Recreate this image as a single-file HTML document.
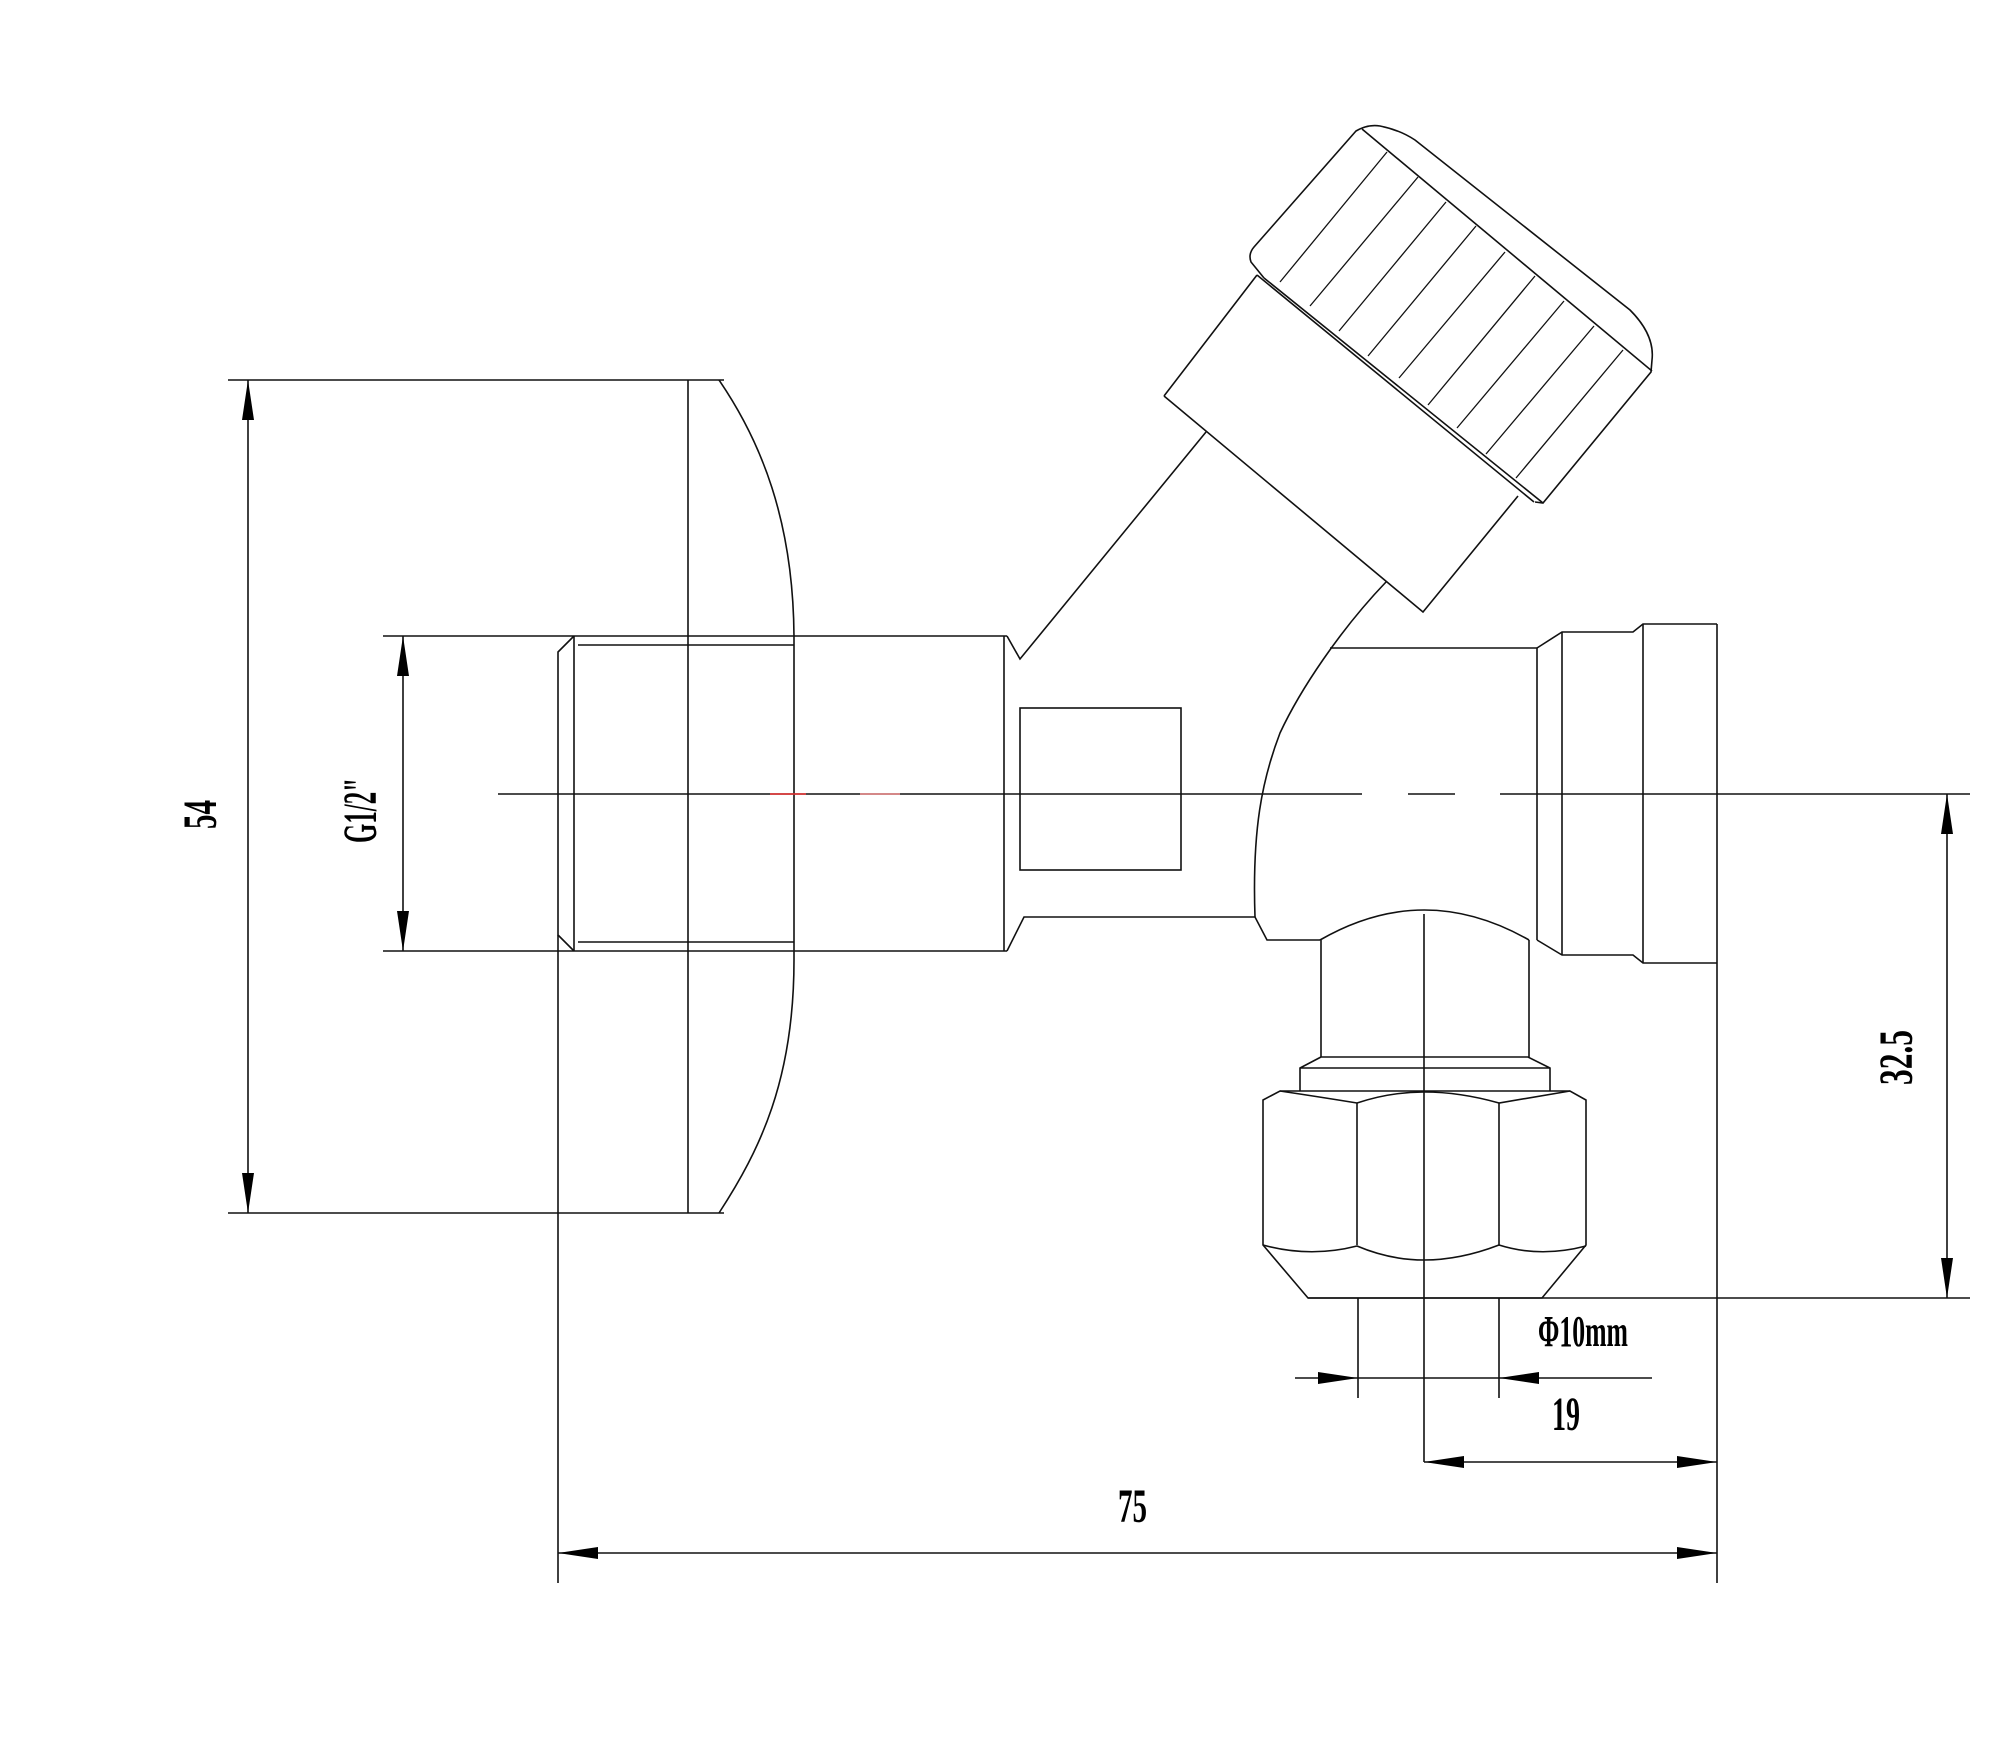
<!DOCTYPE html>
<html><head><meta charset="utf-8"><style>html,body{margin:0;padding:0;background:#fff}svg{display:block}</style></head>
<body>
<svg width="2000" height="1741" viewBox="0 0 2000 1741" xmlns="http://www.w3.org/2000/svg">
<g fill="none" stroke="#111" stroke-width="1.6">
<!-- 54 dimension -->
<line x1="228" y1="380" x2="724" y2="380"/>
<line x1="228" y1="1213" x2="724" y2="1213"/>
<line x1="248" y1="380" x2="248" y2="1213"/>
<!-- flange -->
<line x1="688" y1="380" x2="688" y2="1213"/>
<path d="M719,380 C760,440 794,520 794,640 L794,960 C794,1080 760,1150 719,1213"/>
<!-- G1/2 dimension ext -->
<line x1="383" y1="636" x2="1007" y2="636"/>
<line x1="383" y1="951" x2="1007" y2="951"/>
<line x1="403" y1="636" x2="403" y2="951"/>
<!-- thread -->
<path d="M574,636 L558,652 L558,935 L574,951"/>
<line x1="574" y1="636" x2="574" y2="951"/>
<line x1="578" y1="645" x2="794" y2="645"/>
<line x1="578" y1="942" x2="794" y2="942"/>
<line x1="558" y1="935" x2="558" y2="1583"/>
<!-- body left section -->
<line x1="1004" y1="636" x2="1004" y2="951"/>
<path d="M1007,636 L1020,659 L1206,432"/>
<path d="M1007,951 L1024,917 L1255,917 L1267,940 L1320,940"/>
<rect x="1020" y="708" width="161" height="162"/>
<!-- right curve -->
<path d="M1386,582 C1340,630 1300,690 1280,733 C1262,780 1252,830 1255,917"/>
<!-- right body -->
<path d="M1330,648 L1537,648 L1537,940"/>
<path d="M1537,648 L1562,632 L1633,632 L1643,624 L1717,624"/>
<line x1="1562" y1="632" x2="1562" y2="955"/>
<line x1="1643" y1="624" x2="1643" y2="963"/>
<path d="M1537,940 L1562,955 L1633,955 L1643,963 L1717,963"/>
<line x1="1717" y1="624" x2="1717" y2="1583"/>
<!-- outlet -->
<path d="M1320,940 Q1424,880 1529,940"/>
<line x1="1321" y1="940" x2="1321" y2="1057"/>
<line x1="1529" y1="940" x2="1529" y2="1057"/>
<path d="M1321,1057 L1528,1057 L1550,1068 L1550,1091 M1321,1057 L1300,1068 L1300,1091 M1300,1068 L1550,1068"/>
<!-- hex nut -->
<path d="M1280,1091 L1570,1091 L1586,1100 L1586,1245 L1542,1298 L1308,1298 L1263,1245 L1263,1100 Z"/>
<path d="M1280,1091 Q1320,1097 1357,1103 Q1390,1092 1424,1092 Q1460,1092 1499,1103 Q1535,1097 1570,1091"/>
<line x1="1357" y1="1103" x2="1357" y2="1245"/>
<line x1="1499" y1="1103" x2="1499" y2="1245"/>
<path d="M1263,1245 Q1310,1258 1357,1246 Q1390,1260 1424,1260 Q1460,1260 1499,1245 Q1540,1258 1586,1246"/>
<line x1="1308" y1="1298" x2="1970" y2="1298"/>
<!-- centerlines -->
<line x1="498" y1="794" x2="1362" y2="794"/>
<line x1="1408" y1="794" x2="1455" y2="794"/>
<line x1="1500" y1="794" x2="1970" y2="794"/>
<line x1="1424" y1="914" x2="1424" y2="1462"/>
<!-- knob stem cap -->
<path d="M1164,396 L1257,275 M1164,396 L1423,612 L1518,496"/>
<line x1="1257" y1="275" x2="1534" y2="502"/>
<line x1="1264" y1="278" x2="1543" y2="503"/>
<path d="M1264,278 L1251,262 Q1248,254 1254,247 L1356,131 Q1368,124 1380,126 Q1400,130 1415,140 L1630,310 Q1655,335 1652,360 L1651,372 L1543,503 L1535,502"/>
<line x1="1362" y1="129" x2="1652" y2="371"/>
<g stroke-width="1.3">
<line x1="1387" y1="152" x2="1280" y2="282"/>
<line x1="1418" y1="177" x2="1310" y2="306"/>
<line x1="1446" y1="202" x2="1339" y2="331"/>
<line x1="1476" y1="226" x2="1368" y2="356"/>
<line x1="1505" y1="252" x2="1399" y2="378"/>
<line x1="1535" y1="276" x2="1428" y2="405"/>
<line x1="1564" y1="301" x2="1457" y2="428"/>
<line x1="1594" y1="326" x2="1486" y2="454"/>
<line x1="1623" y1="350" x2="1516" y2="478"/>
</g>
<!-- phi dims -->
<line x1="1358" y1="1298" x2="1358" y2="1398"/>
<line x1="1499" y1="1298" x2="1499" y2="1398"/>
<line x1="1295" y1="1378" x2="1652" y2="1378"/>
<!-- 19 dim -->
<line x1="1424" y1="1462" x2="1717" y2="1462"/>
<!-- 75 dim -->
<line x1="558" y1="1553" x2="1717" y2="1553"/>
<!-- 32.5 dim -->
<line x1="1947" y1="794" x2="1947" y2="1298"/>
</g>
<line x1="770" y1="794" x2="806" y2="794" stroke="#e33" stroke-width="1.6"/>
<line x1="860" y1="794" x2="900" y2="794" stroke="#e88" stroke-width="1.4"/>
<g fill="#000">
<polygon points="248,380 242,420 254,420"/>
<polygon points="248,1213 242,1173 254,1173"/>
<polygon points="403,636 397,676 409,676"/>
<polygon points="403,951 397,911 409,911"/>
<polygon points="1947,794 1941,834 1953,834"/>
<polygon points="1947,1298 1941,1258 1953,1258"/>
<polygon points="1358,1378 1318,1372 1318,1384"/>
<polygon points="1499,1378 1539,1372 1539,1384"/>
<polygon points="1424,1462 1464,1456 1464,1468"/>
<polygon points="1717,1462 1677,1456 1677,1468"/>
<polygon points="558,1553 598,1547 598,1559"/>
<polygon points="1717,1553 1677,1547 1677,1559"/>
</g>
<g font-family="Liberation Serif, serif" fill="#000" font-size="48" font-weight="bold">
<text x="1118" y="1522" textLength="29" lengthAdjust="spacingAndGlyphs">75</text>
<text x="1552" y="1430" textLength="28" lengthAdjust="spacingAndGlyphs">19</text>
<text x="1538" y="1346" font-size="44" textLength="90" lengthAdjust="spacingAndGlyphs">Φ10mm</text>
<text transform="translate(216,829) rotate(-90)" textLength="29" lengthAdjust="spacingAndGlyphs">54</text>
<text transform="translate(376,843) rotate(-90)" textLength="65" lengthAdjust="spacingAndGlyphs">G1/2"</text>
<text transform="translate(1912,1085) rotate(-90)" textLength="55" lengthAdjust="spacingAndGlyphs">32.5</text>
</g>
</svg>
</body></html>
